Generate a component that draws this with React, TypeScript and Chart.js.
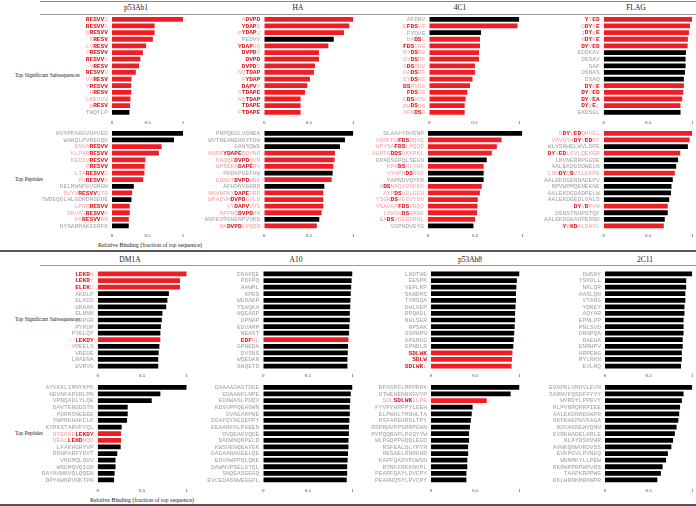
import React, { useEffect, useRef } from "react";
import { Chart, registerables } from "chart.js";
Chart.register(...registerables);

// ---------------- data ----------------
// label markup: [..] = motif residues (bold red), {..} = flanking residues (pink), plain = no match (gray)
// motif arrays: 1 = bar drawn red (sequence contains the motif), 0 = black

const xTickValues = [0, 0.5, 1];
const xTickLabels = ["0", "0.5", "1"];

const panelTitlesTop = ["p53Ab1", "HA", "4C1", "FLAG"];
const panelTitlesBottom = ["DM1A", "A10", "p53Ab8", "2C11"];
const rowTitles = ["Top Significant Subsequences", "Top Peptides"];
const axisTitle = "Relative Binding (fraction of top sequence)";

// p53Ab1
const p53Ab1SubLabels = ["[RESVV]{D}", "[RESVV]{G}", "{R}[RESVV]", "{K}[RESV]", "{LV}[RESV]", "{V}[RESVV]", "[RESVV]{K}", "{V}[RESV]", "[RESVV]{V}", "{VA}[RESV]", "{Y}[RESVV]", "{H}[RESV]", "{LRESVV}", "{D}[RESV]", "TWQTLP"];
const p53Ab1SubValues = [1.0, 0.6, 0.6, 0.575, 0.48, 0.435, 0.4, 0.38, 0.335, 0.275, 0.27, 0.27, 0.26, 0.255, 0.245];
const p53Ab1SubMotif = [1, 1, 1, 1, 1, 1, 1, 1, 1, 1, 1, 1, 1, 1, 0];
const p53Ab1PepLabels = ["NVYPPARGVDPVED", "WANQLPVREGQK", "{KNVA}[RESVV]", "{KLPAR}[RESVV]", "{KEDIV}[RESVV]", "{P}[RESVV]", "{LTA}[RESVV]{D}", "{PV}[RESVV]{D}", "DELMWNPGVGMGW", "{DVYV}[RESVV]{QTR}", "TWDEQGLHLGDRDRGDDE", "{LPGR}[RESVV]", "{KNVAV}[RESVV]{K}", "{KK}[RESVV]{KN}", "NYSARPAKKERFK"];
const p53Ab1PepValues = [1.0, 0.873, 0.7, 0.66, 0.47, 0.46, 0.457, 0.44, 0.307, 0.283, 0.274, 0.25, 0.25, 0.236, 0.236];
const p53Ab1PepMotif = [0, 0, 1, 1, 1, 1, 1, 1, 0, 1, 0, 1, 1, 1, 0];

// HA
const haSubLabels = ["{A}[DVPD]", "[YDAP]{D}", "{P}[YDAP]{V}", "PEDVV", "[YDAP]{GQ}", "[DVPD]{G}", "[DVPD]", "[DVPD]{S}", "{NQ}[TDAP]", "{F}[YDAP]", "[DAPV]{V}", "{S}[TDAPE]", "{NQ}[TDAP]", "[TDAPE]", "{F}[TDAPE]"];
const haSubValues = [1.0, 0.955, 0.895, 0.78, 0.72, 0.614, 0.614, 0.569, 0.558, 0.513, 0.483, 0.457, 0.408, 0.408, 0.408];
const haSubMotif = [1, 1, 1, 0, 1, 1, 1, 1, 1, 1, 1, 1, 1, 1, 1];
const haPepLabels = ["PNPQEDLVGNEK", "WVTNEANERGYFDW", "GANSQWE", "{KNPP}[YDAPE]{QQVNR}", "{KAQQE}[DVPD]{QVN}", "{WPSERA}[DAPE]{RV}", "PKDKPGEFVW", "{EDNGT}[DVPD]{WNE}", "AFHDNVGKRD", "{NNVNPKY}[DAPE]{DRP}", "{WPADVH}[DVPD]{GVLD}", "{VY}[DAPV]{VVS}", "{NFPNQ}[DVPD]{RN}", "ANFEVPGNENPVVKD", "{NK}[DVPD]{LPQQR}"];
const haPepValues = [1.0, 0.906, 0.85, 0.794, 0.79, 0.775, 0.768, 0.757, 0.674, 0.663, 0.663, 0.663, 0.644, 0.618, 0.59];
const haPepMotif = [0, 0, 0, 1, 1, 1, 0, 1, 0, 1, 1, 1, 1, 0, 1];

// 4C1
const c4c1SubLabels = ["AFDNV", "{E}[FDS]{VG}", "FYDVG", "{DA}[DS]{L}", "[FDS]{VGG}", "{NY}[DS]{RG}", "{GY}[DS]{RF}", "{A}[DS]{RGV}", "{DA}[DS]{RF}", "{SY}[DS]{RG}", "[DS]{RVGG}", "[FDS]{VG}", "{E}[DS]{RVG}", "{PH}[DS]{DS}", "{ARN}[DS]{G}"];
const c4c1SubValues = [1.0, 0.98, 0.574, 0.563, 0.563, 0.552, 0.552, 0.507, 0.507, 0.48, 0.452, 0.422, 0.404, 0.393, 0.393];
const c4c1SubMotif = [0, 1, 0, 1, 1, 1, 1, 1, 1, 1, 1, 1, 1, 1, 1];
const c4c1PepLabels = ["DLAAFYDVGNP", "{VANFFD}[FDS]{QQVE}", "{WPYSA}[FDS]{LPQQD}", "{AGPPS}[DDS]{VKKPKL}", "DPADSGPQLSEGN", "{KPN}[DS]{NLYNF}", "{VYAPN}[DS]{NGK}", "YAPNDVQYPR", "{A}[DS]{NPQADSKFK}", "{AYP}[DS]{VGLGEN}", "{YSGN}[DS]{VGGVYDN}", "{VSAVGP}[FDS]{VGQD}", "{LYWSN}[DS]{RANE}", "{EA}[DS]{VGERSRNL}", "VGPNDVGYG"];
const c4c1PepValues = [1.0, 0.78, 0.73, 0.676, 0.623, 0.59, 0.59, 0.59, 0.57, 0.55, 0.528, 0.525, 0.52, 0.5, 0.482];
const c4c1PepMotif = [0, 1, 1, 1, 0, 1, 0, 0, 1, 1, 1, 1, 1, 1, 0];

// FLAG
const flagSubLabels = ["[Y]{Y}[ED]", "{D}[DY]{K}[E]", "{I}[DY]{K}[E]", "{N}[DY]{K}[E]", "[DY]{V}[ED]", "EDSKAV", "DSSAV", "SAP", "DSNAS", "DSAQ", "[DY]{K}[E]", "[DY]{V}[ED]", "[DY]{V}[EA]", "[DY]{K}[E]{L}", "EKDSGL"];
const flagSubValues = [1.0, 0.973, 0.962, 0.95, 0.947, 0.928, 0.924, 0.924, 0.917, 0.905, 0.905, 0.898, 0.886, 0.867, 0.867];
const flagSubMotif = [1, 1, 1, 1, 1, 0, 0, 0, 0, 0, 1, 1, 1, 1, 0];
const flagPepLabels = ["{D}[DY]{V}[ED]{QHVEL}", "{VAVQYA}[DY]{V}[ED]{DY}", "WLVSNWELWVLDPE", "[DY]{V}[ED]{LGVLQEKER}", "LNVNERRPGGDE", "AALEKDGDDWELN", "{LNN}[DY]{Q}[D]{VILEKPE}", "AALEKDGENNADEPV", "NPVWPMQENEKNE", "AALEKDGDADPELW", "AALEKDGEDLVALS", "[DY]{V}[D]{PVW}", "DSNSTNHPSTQF", "AALEKDGEADPEDND", "[Y]{P}[KD]{ALSNYL}"];
const flagPepValues = [1.0, 0.97, 0.95, 0.864, 0.84, 0.818, 0.803, 0.78, 0.765, 0.76, 0.739, 0.723, 0.723, 0.689, 0.678];
const flagPepMotif = [1, 1, 0, 1, 0, 0, 1, 0, 0, 0, 0, 1, 0, 0, 1];

// DM1A
const dm1aSubLabels = ["[LEKD]{N}", "[LEKD]{Y}", "[ELEK]{D}", "AKDLP", "ELKGD", "GRAAK", "ELNNN", "DRPGR", "PYPDP", "PYELQT", "[LEKDY]", "VPEELS", "VREDE", "LRAENA", "EVRVD"];
const dm1aSubValues = [1.0, 0.925, 0.925, 0.8, 0.783, 0.77, 0.727, 0.72, 0.71, 0.704, 0.704, 0.693, 0.685, 0.68, 0.68];
const dm1aSubMotif = [1, 1, 1, 0, 0, 0, 0, 0, 0, 0, 1, 0, 0, 0, 0];
const dm1aPepLabels = ["AYVKKLIMNYKPK", "NGVNFAPGRLPN", "VPNQADLYLQE", "DAVTENGDSTN", "PDRRSNGEEE", "YWPRKHAKCLK", "KYPKSTARVFYQL", "{NYEKDE}[LEKDY]", "{DEAL}[LEKD]{NQD}", "LFAKHGHYVP", "RDNPARFYDVT", "VNGMQLQGV", "WRDMQVQIGN", "RAYAVWNVQLQQEN", "DPYAWNRVRKTPN"];
const dm1aPepValues = [1.0, 0.704, 0.607, 0.337, 0.337, 0.33, 0.27, 0.262, 0.262, 0.258, 0.22, 0.2, 0.2, 0.19, 0.184];
const dm1aPepMotif = [0, 0, 0, 0, 0, 0, 0, 1, 1, 0, 0, 0, 0, 0, 0];

// A10
const a10SubLabels = ["DSAFQE", "PDFPQ", "AAWPL", "KPDS", "WEDAKP", "YSAQKA", "NQEASP", "DPNAP", "EDVAMP", "NEAST", "[EDF]{NL}", "GPNEDA", "DVSNS", "WQEDAN", "SNQETD"];
const a10SubValues = [1.0, 0.99, 0.985, 0.98, 0.977, 0.975, 0.97, 0.97, 0.965, 0.962, 0.955, 0.95, 0.947, 0.943, 0.943];
const a10SubMotif = [0, 0, 0, 0, 0, 0, 0, 0, 0, 0, 1, 0, 0, 0, 0];
const a10PepLabels = ["DAAAADASTDGE", "EDAANFLNPE", "EDAWASLPDQV", "KDSVPPQEAGWN", "DVAEAKPWE", "DGAFQYAEQEPPY", "EEAANFKLPGEEN", "DVQEAKVQDE", "DADWNQNPELD", "KWSVENQEAVGK", "DAGAANAGEELQE", "EDVAWPPQLQNE", "DAWNVPSELGTQL", "SNQEASGEGQ", "EVCEDASNWEGEPL"];
const a10PepValues = [1.0, 0.98, 0.975, 0.97, 0.97, 0.965, 0.96, 0.96, 0.955, 0.955, 0.95, 0.945, 0.94, 0.94, 0.935];
const a10PepMotif = [0, 0, 0, 0, 0, 0, 0, 0, 0, 0, 0, 0, 0, 0, 0];

// p53Ab8
const p53Ab8SubLabels = ["LNDTWE", "EESPK", "VEPLRP", "SKNDMS", "TYRSQA", "DHLVEP", "RPQADL", "NHLSER", "RPSAK", "SSPHPN", "GPENGG", "GPNDLR", "[SDLWK]", "[SDLW]", "[SDLWK]{L}"];
const p53Ab8SubValues = [1.0, 0.97, 0.965, 0.96, 0.96, 0.955, 0.95, 0.95, 0.945, 0.94, 0.935, 0.93, 0.92, 0.915, 0.91];
const p53Ab8SubMotif = [0, 0, 0, 0, 0, 0, 0, 0, 0, 0, 0, 0, 1, 1, 1];
const p53Ab8PepLabels = ["RPASPFLMPPRPK", "DTWEHENNNGVYP", "{SDL}[SDLWK]{LLPE}", "FYVPYHRPPYLGEH", "ELPWHLYMNHLTA", "RSFAPEHRSLTPY", "RSPRHVPPSRRPGWN", "MYPQQRAPLPGQYYW", "WLPGQPPHQQLEGD", "RSFEALQLYPYR", "RESAELRNRGHR", "KAPFQASVPDWSN", "RTNFFRKKNVPL", "PEARFQAYLDVCPY", "PEARHQSYLPVCPY"];
const p53Ab8PepValues = [1.0, 0.9, 0.63, 0.47, 0.46, 0.45, 0.44, 0.43, 0.43, 0.42, 0.42, 0.41, 0.41, 0.4, 0.4];
const p53Ab8PepMotif = [0, 0, 1, 0, 0, 0, 0, 0, 0, 0, 0, 0, 0, 0, 0];

// 2C11
const c2c11SubLabels = ["DWSNY", "YSKDLL", "NKLQR", "AASLQN", "VTARG", "YDNEY", "AQYAR", "EPNLPP", "PNLSVD", "DRNPQA", "DAEHA", "ENRHPV", "HRPENG", "RYLRKN", "EVLRQ"];
const c2c11SubValues = [1.0, 0.93, 0.93, 0.92, 0.92, 0.91, 0.91, 0.9, 0.9, 0.9, 0.89, 0.89, 0.88, 0.88, 0.87];
const c2c11SubMotif = [0, 0, 0, 0, 0, 0, 0, 0, 0, 0, 0, 0, 0, 0, 0];
const c2c11PepLabels = ["EVAPNLVRDVLEVN", "SARNVFQSDFFYYY", "WVRDYLPPGVY", "RLPVNRQRRPIEE", "AALEKDNRDDWPR", "SKFKAEPWVFAGA", "RDVAKNEWVQNN", "EVRKHADELKRLE", "NLAYDSKVWR", "AVWKQNWVRDVSS", "EVKPGVLPVNEQ", "WDNMKYLLPEW", "RKRWPPRPWPVRS", "TAAPKRPPWG", "DKLHRNKMRKWPR"];
const c2c11PepValues = [1.0, 0.9, 0.88, 0.86, 0.85, 0.84, 0.82, 0.8, 0.78, 0.76, 0.72, 0.7, 0.66, 0.64, 0.6];
const c2c11PepMotif = [0, 0, 0, 0, 0, 0, 0, 0, 0, 0, 0, 0, 0, 0, 0];

// ---------------- styling / layout ----------------
const RED = "#ef1d24";
const BLACK = "#000000";
const TXT_STRONG = "#e0121a";
const TXT_PINK = "#f4a2a7";
const TXT_GRAY = "#a2a2a2";
const MONO = "'Liberation Mono', 'DejaVu Sans Mono', monospace";
const SERIF = "'Liberation Serif', 'DejaVu Serif', serif";
const LABEL_SIZE = 6.2;
const LP = 92;
const RP = 6;

type RowKey = "topSub" | "topPep" | "botSub" | "botPep";
const ROWS: Record<RowKey, { t: number; b: number; tp: number }> = {
  topSub: { t: 16.0, b: 115.6, tp: 4 },
  topPep: { t: 130.0, b: 229.3, tp: 3.4 },
  botSub: { t: 270.7, b: 369.3, tp: 3.7 },
  botPep: { t: 384.0, b: 483.3, tp: 4.4 },
};

function parseLabel(s: string) {
  const segs: { t: string; k: number }[] = [];
  let k = 0;
  let cur = "";
  for (const ch of s) {
    if (ch === "[" || ch === "{") {
      if (cur) segs.push({ t: cur, k });
      cur = "";
      k = ch === "[" ? 1 : 2;
    } else if (ch === "]" || ch === "}") {
      if (cur) segs.push({ t: cur, k });
      cur = "";
      k = 0;
    } else cur += ch;
  }
  if (cur) segs.push({ t: cur, k });
  return segs;
}

const richLabelPlugin = {
  id: "richLabels",
  afterDraw(chart: any) {
    const labels: string[] = chart.data.labels;
    const yScale = chart.scales.y;
    const ctx: CanvasRenderingContext2D = chart.ctx;
    ctx.save();
    ctx.textBaseline = "middle";
    ctx.textAlign = "left";
    ctx.font = `bold ${LABEL_SIZE}px ${MONO}`;
    const cw = ctx.measureText("MMMMMMMMMM").width / 10;
    labels.forEach((lab, i) => {
      const segs = parseLabel(lab);
      const n = segs.reduce((a, s) => a + s.t.length, 0);
      let x = chart.chartArea.left - 4 - n * cw;
      const y = yScale.getPixelForValue(i) + 0.3;
      segs.forEach((s) => {
        ctx.font = `${s.k === 1 ? "bold " : ""}${LABEL_SIZE}px ${MONO}`;
        ctx.fillStyle = s.k === 1 ? TXT_STRONG : s.k === 2 ? TXT_PINK : TXT_GRAY;
        for (const ch of s.t) {
          ctx.fillText(ch, x, y);
          x += cw;
        }
      });
    });
    ctx.restore();
  },
};

type Spec = {
  labels: string[];
  values: number[];
  motif: number[];
  x0: number;
  x1: number;
  row: RowKey;
};

const specs: Spec[] = [
  { labels: p53Ab1SubLabels, values: p53Ab1SubValues, motif: p53Ab1SubMotif, x0: 112, x1: 183, row: "topSub" },
  { labels: p53Ab1PepLabels, values: p53Ab1PepValues, motif: p53Ab1PepMotif, x0: 112, x1: 183, row: "topPep" },
  { labels: haSubLabels, values: haSubValues, motif: haSubMotif, x0: 264.3, x1: 353.3, row: "topSub" },
  { labels: haPepLabels, values: haPepValues, motif: haPepMotif, x0: 264.3, x1: 353.3, row: "topPep" },
  { labels: c4c1SubLabels, values: c4c1SubValues, motif: c4c1SubMotif, x0: 429.3, x1: 519.3, row: "topSub" },
  { labels: c4c1PepLabels, values: c4c1PepValues, motif: c4c1PepMotif, x0: 428, x1: 522.3, row: "topPep" },
  { labels: flagSubLabels, values: flagSubValues, motif: flagSubMotif, x0: 603.7, x1: 692.3, row: "topSub" },
  { labels: flagPepLabels, values: flagPepValues, motif: flagPepMotif, x0: 603.7, x1: 692.3, row: "topPep" },
  { labels: dm1aSubLabels, values: dm1aSubValues, motif: dm1aSubMotif, x0: 97.7, x1: 186.7, row: "botSub" },
  { labels: dm1aPepLabels, values: dm1aPepValues, motif: dm1aPepMotif, x0: 97.7, x1: 186.7, row: "botPep" },
  { labels: a10SubLabels, values: a10SubValues, motif: a10SubMotif, x0: 263.3, x1: 352.5, row: "botSub" },
  { labels: a10PepLabels, values: a10PepValues, motif: a10PepMotif, x0: 263.3, x1: 352.5, row: "botPep" },
  { labels: p53Ab8SubLabels, values: p53Ab8SubValues, motif: p53Ab8SubMotif, x0: 431, x1: 519.5, row: "botSub" },
  { labels: p53Ab8PepLabels, values: p53Ab8PepValues, motif: p53Ab8PepMotif, x0: 431, x1: 519.5, row: "botPep" },
  { labels: c2c11SubLabels, values: c2c11SubValues, motif: c2c11SubMotif, x0: 605, x1: 692.3, row: "botSub" },
  { labels: c2c11PepLabels, values: c2c11PepValues, motif: c2c11PepMotif, x0: 605, x1: 692.3, row: "botPep" },
];

function geom(s: Spec) {
  const r = ROWS[s.row];
  const left = Math.round(s.x0) - LP;
  const plotW = s.x1 - s.x0;
  const w = Math.ceil(LP + plotW + RP + (s.x0 - Math.round(s.x0)));
  const padLeft = s.x0 - left;
  const padRight = w - padLeft - plotW;
  const top = Math.floor(r.t) - 2;
  const padTop = r.t - top;
  const axisH = 6 + 2 * r.tp;
  const h = Math.ceil(r.b - top + axisH + 2);
  const padBottom = h - (r.b - top) - axisH;
  return { left, top, w, h, padLeft, padRight, padTop, padBottom, tp: r.tp };
}

function makeChart(canvas: HTMLCanvasElement, s: Spec) {
  const g = geom(s);
  return new Chart(canvas, {
    type: "bar",
    data: {
      labels: s.labels,
      datasets: [
        {
          data: s.values,
          backgroundColor: s.motif.map((m) => (m ? RED : BLACK)),
          borderWidth: 0,
          barPercentage: 0.72,
          categoryPercentage: 1,
        },
      ],
    },
    options: {
      indexAxis: "y",
      animation: false,
      responsive: false,
      maintainAspectRatio: false,
      layout: { padding: { left: g.padLeft, right: g.padRight, top: g.padTop, bottom: g.padBottom } },
      plugins: { legend: { display: false }, tooltip: { enabled: false }, title: { display: false } },
      scales: {
        y: { display: false },
        x: {
          min: 0,
          max: 1,
          grid: { display: false, drawTicks: false },
          border: { display: false },
          afterBuildTicks: (axis: any) => {
            axis.ticks = xTickValues.map((v) => ({ value: v }));
          },
          ticks: {
            padding: g.tp,
            maxRotation: 0,
            autoSkip: false,
            color: "#333",
            font: { size: 5, family: SERIF },
            callback: (v: any) => xTickLabels[xTickValues.indexOf(Number(v))] ?? "",
          },
        },
      },
    } as any,
    plugins: [richLabelPlugin as any],
  });
}

const titleStyle = (x: number, y: number): React.CSSProperties => ({
  position: "absolute",
  left: x,
  top: y,
  transform: "translate(-50%, -50%)",
  fontFamily: SERIF,
  fontSize: 7.5,
  color: "#222",
  whiteSpace: "nowrap",
  lineHeight: 1,
});

const rowStyle = (y: number): React.CSSProperties => ({
  position: "absolute",
  left: 15,
  top: y,
  transform: "translateY(-50%)",
  fontFamily: SERIF,
  fontSize: 5.4,
  color: "#222",
  whiteSpace: "nowrap",
  lineHeight: 1,
});

const line = (x: number, y: number, w: number, h: number, c: string): React.CSSProperties => ({
  position: "absolute",
  left: x,
  top: y,
  width: w,
  height: h,
  background: c,
});

export default function App() {
  const refs = useRef<(HTMLCanvasElement | null)[]>([]);
  useEffect(() => {
    const charts = specs.map((s, i) => makeChart(refs.current[i] as HTMLCanvasElement, s));
    return () => charts.forEach((c) => c.destroy());
  }, []);

  const topTitleX = [136, 298, 460, 636];
  const botTitleX = [130, 296, 470, 645];

  return (
    <div style={{ position: "absolute", left: 0, top: 0, width: 696, height: 506, background: "#fff", overflow: "hidden" }}>
      <div style={line(40, 1, 656, 1, "#8a8a8a")} />
      <div style={line(40, 14, 656, 1, "#9a9a9a")} />
      <div style={line(0, 250, 696, 2, "#555")} />
      <div style={line(40, 265, 656, 1, "#9a9a9a")} />
      <div style={line(0, 504, 696, 2, "#555")} />
      {panelTitlesTop.map((t, i) => (
        <div key={"tt" + i} style={titleStyle(topTitleX[i], 7.5)}>{t}</div>
      ))}
      {panelTitlesBottom.map((t, i) => (
        <div key={"bt" + i} style={titleStyle(botTitleX[i], 259.5)}>{t}</div>
      ))}
      <div style={rowStyle(76)}>{rowTitles[0]}</div>
      <div style={rowStyle(180)}>{rowTitles[1]}</div>
      <div style={rowStyle(320)}>{rowTitles[0]}</div>
      <div style={rowStyle(434)}>{rowTitles[1]}</div>
      <div style={{ ...titleStyle(150, 245), fontSize: 6 }}>{axisTitle}</div>
      <div style={{ ...titleStyle(142, 500), fontSize: 6 }}>{axisTitle}</div>
      {specs.map((s, i) => {
        const g = geom(s);
        return (
          <canvas
            key={i}
            ref={(el) => {
              refs.current[i] = el;
            }}
            width={g.w}
            height={g.h}
            style={{ position: "absolute", left: g.left, top: g.top, width: g.w, height: g.h }}
          />
        );
      })}
    </div>
  );
}
